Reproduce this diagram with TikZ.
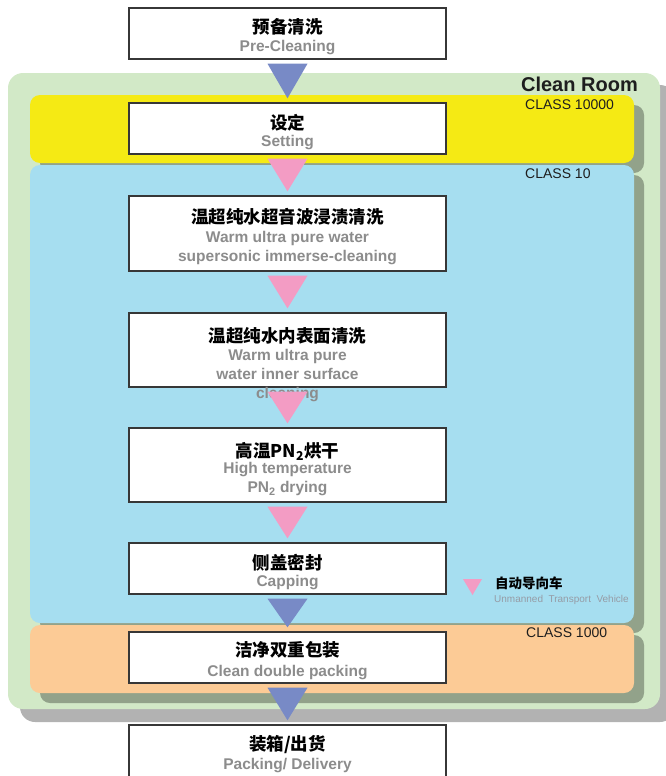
\documentclass[tikz,border=0pt]{standalone}
\usepackage{fontspec}
\setmainfont{Liberation Sans}
\newfontfamily\cjk{Noto Sans CJK SC}
\usetikzlibrary{calc}
\definecolor{roomgreen}{RGB}{210,233,199}
\definecolor{cyellow}{RGB}{245,234,20}
\definecolor{cblue}{RGB}{166,222,240}
\definecolor{corange}{RGB}{252,203,150}
\definecolor{tblue}{RGB}{120,138,198}
\definecolor{tpink}{RGB}{243,156,196}
\definecolor{engray}{RGB}{140,140,140}
\definecolor{leggray}{RGB}{150,156,166}
\definecolor{boxline}{RGB}{55,55,55}
\definecolor{classtext}{RGB}{30,30,30}
\newcommand\flowtri[3]{\fill[#3] ($(#1.south)+(-20,4)$) -- ($(#1.south)+(20,4)$) -- ($(#2.north)+(0,-4)$) -- cycle;}
\begin{document}
\begin{tikzpicture}[x=1pt,y=-1pt,
  stepbox/.style={draw=boxline, line width=1.4pt, fill=white, minimum width=317pt, inner sep=0pt},
  zh/.style={font=\cjk\bfseries\fontsize{17.5}{20}\selectfont, text=black, inner sep=0pt, anchor=base},
  en/.style={font=\bfseries\fontsize{15.5}{19}\selectfont, text=engray, inner sep=0pt, anchor=base},
  cls/.style={font=\fontsize{14}{16}\selectfont, text=classtext, inner sep=0pt, anchor=base west},
  shadow/.style={fill=black, fill opacity=0.3},
  band/.style={rounded corners=10pt}]
\useasboundingbox (0,0) rectangle (665,776);
% clean room and shadows
\fill[shadow, rounded corners=15pt] (20,85) rectangle (675,722);
\fill[roomgreen, rounded corners=15pt] (8,73) rectangle (660,709);
\fill[shadow, band] (40,105) rectangle (644,173);
\fill[shadow, band] (40,175) rectangle (644,633);
\fill[shadow, band] (40,635) rectangle (644,703);
\fill[cyellow, band] (30,95) rectangle (634,163);
\fill[cblue, band] (30,165) rectangle (634,623);
\fill[corange, band] (30,625) rectangle (634,693);
\node[font=\bfseries\fontsize{20}{22}\selectfont, text=classtext, inner sep=0pt, anchor=base east] (room) at (638,92) {Clean Room};
\node[cls] (c10000) at (525,109) {CLASS 10000};
\node[cls] (c10) at (525,178) {CLASS 10};
\node[cls] (c1000) at (526,637) {CLASS 1000};
% boxes
\node[stepbox, minimum height=51pt] (pre) at (287.5,33.5) {};
\node[stepbox, minimum height=51pt] (set) at (287.5,128.5) {};
\node[stepbox, minimum height=75pt] (warm) at (287.5,233.5) {};
\node[stepbox, minimum height=74pt] (inner) at (287.5,350) {};
\node[stepbox, minimum height=74pt] (high) at (287.5,465) {};
\node[stepbox, minimum height=51pt] (cap) at (287.5,568.5) {};
\node[stepbox, minimum height=51pt] (pack) at (287.5,657.5) {};
\node[stepbox, minimum height=66pt] (deliv) at (287.5,758) {};
% texts
\node[zh] (preZ) at (287.5,33.5) {预备清洗};
\node[en] (preE) at (287.5,52) {Pre-Cleaning};
\node[zh] (setZ) at (287.5,129) {设定};
\node[en] (setE) at (287.5,146.5) {Setting};
\node[zh] (warmZ) at (287.5,223) {温超纯水超音波浸渍清洗};
\node[en] (warmE1) at (287.5,242.5) {Warm ultra pure water};
\node[en] (warmE2) at (287.5,261.5) {supersonic immerse-cleaning};
\node[zh] (innerZ) at (287.5,342) {温超纯水内表面清洗};
\node[en] (innerE1) at (287.5,360) {Warm ultra pure};
\node[en] (innerE2) at (287.5,379) {water inner surface};
\node[en] (innerE3) at (287.5,398) {cleaning};
\node[zh] (highZ) at (287.5,457) {高温PN\textsubscript{2}烘干};
\node[en] (highE1) at (287.5,473) {High temperature};
\node[en] (highE2) at (287.5,492.5) {PN\textsubscript{2} drying};
\node[zh] (capZ) at (287.5,569.5) {侧盖密封};
\node[en] (capE) at (287.5,586) {Capping};
\node[zh] (packZ) at (287.5,656) {洁净双重包装};
\node[en] (packE) at (287.5,676) {Clean double packing};
\node[zh] (delivZ) at (287.5,750.5) {装箱/出货};
\node[en] (delivE) at (287.5,769) {Packing/ Delivery};
% flow triangles
\flowtri{pre}{set}{tblue}
\flowtri{set}{warm}{tpink}
\flowtri{warm}{inner}{tpink}
\flowtri{inner}{high}{tpink}
\flowtri{high}{cap}{tpink}
\flowtri{cap}{pack}{tblue}
\flowtri{pack}{deliv}{tblue}
% legend
\coordinate (legA) at (463,579);
\coordinate (legB) at (482,579);
\coordinate (legC) at (472.5,595);
\fill[tpink] (legA) -- (legB) -- (legC) -- cycle;
\node[font=\cjk\bfseries\fontsize{13.5}{15}\selectfont, inner sep=0pt, anchor=west] (legZ) at (495,583) {自动导向车};
\node[font=\fontsize{10}{12}\selectfont, text=leggray, inner sep=0pt, anchor=west] (legE) at (494,599.5) {Unmanned\hspace{5.5pt}Transport\hspace{5.5pt}Vehicle};
\end{tikzpicture}
\end{document}
